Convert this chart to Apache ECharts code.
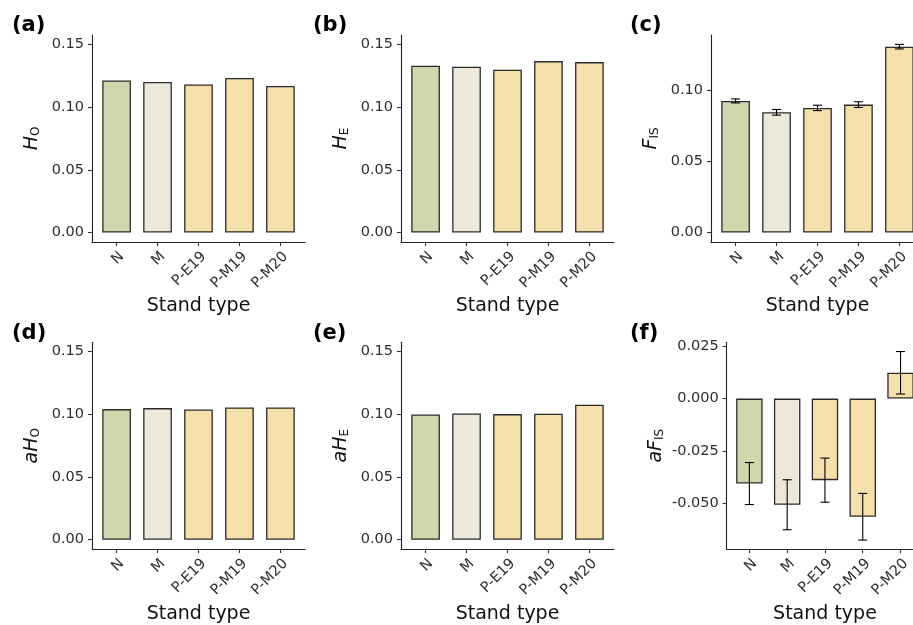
<!DOCTYPE html>
<html><head><meta charset="utf-8">
<script src="https://cdn.jsdelivr.net/npm/echarts@6/dist/echarts.min.js"></script>
<style>html,body{margin:0;padding:0;background:#fff}#c{width:913px;height:625px}</style>
</head><body><div id="c"></div>
<script>
const categories = ['N', 'M', 'P-E19', 'P-M19', 'P-M20'];
const hoValues   = [0.1213, 0.1200, 0.1181, 0.1232, 0.1168];
const heValues   = [0.1330, 0.1322, 0.1298, 0.1367, 0.1359];
const fisValues  = [0.0925, 0.0845, 0.0876, 0.0899, 0.1306];
const fisErrors  = [0.0014, 0.0020, 0.0019, 0.0020, 0.0016];
const ahoValues  = [0.1042, 0.1050, 0.1039, 0.1055, 0.1055];
const aheValues  = [0.0999, 0.1007, 0.1002, 0.1005, 0.1077];
const afisValues = [-0.0404, -0.0505, -0.0388, -0.0562, 0.0123];
const afisErrors = [0.0100, 0.0119, 0.0105, 0.0111, 0.0101];
const hTicks    = [0, 0.05, 0.10, 0.15];
const fisTicks  = [0, 0.05, 0.10];
const afisTicks = [-0.05, -0.025, 0, 0.025];
const xTitle = 'Stand type';

const standColors = ['#cfd7ad', '#ece9da', '#f5dfab', '#f5dfab', '#f5dfab'];
const FONT = 'DejaVu Sans';

const panels = [
  {tag: '(a)', name: '{i|H}{s|O}',   values: hoValues,   errors: null,       ticks: hTicks,    dec: 2, min: -0.0075, max: 0.1575,  left: 92,    top: 35,    width: 213,   height: 207,   tagX: 12,  tagY: 15},
  {tag: '(b)', name: '{i|H}{s|E}',   values: heValues,   errors: null,       ticks: hTicks,    dec: 2, min: -0.0075, max: 0.1575,  left: 401,   top: 35,    width: 213,   height: 207,   tagX: 313, tagY: 15},
  {tag: '(c)', name: '{i|F}{s|IS}',  values: fisValues,  errors: fisErrors,  ticks: fisTicks,  dec: 2, min: -0.0066, max: 0.1388,  left: 711,   top: 35,    width: 213,   height: 207,   tagX: 630, tagY: 15},
  {tag: '(d)', name: '{i|aH}{s|O}',  values: ahoValues,  errors: null,       ticks: hTicks,    dec: 2, min: -0.0075, max: 0.1575,  left: 92,    top: 342.3, width: 213,   height: 206.8, tagX: 12,  tagY: 323},
  {tag: '(e)', name: '{i|aH}{s|E}',  values: aheValues,  errors: null,       ticks: hTicks,    dec: 2, min: -0.0075, max: 0.1575,  left: 401,   top: 342.3, width: 213,   height: 206.8, tagX: 313, tagY: 323},
  {tag: '(f)', name: '{i|aF}{s|IS}', values: afisValues, errors: afisErrors, ticks: afisTicks, dec: 3, min: -0.0716, max: 0.0268,  left: 726.7, top: 342.3, width: 196.5, height: 206.8, tagX: 630, tagY: 323}
];

const catIdx = categories.map((c, i) => i);
const grid = [], xAxis = [], yAxis = [], series = [], title = [];

panels.forEach((p, i) => {
  grid.push({left: p.left, top: p.top, width: p.width, height: p.height,
    containLabel: false, outerBoundsMode: 'none'});
  title.push({text: p.tag, left: p.tagX, top: p.tagY, padding: 0,
    textStyle: {fontFamily: FONT, fontSize: 21, fontWeight: 'bold', color: '#000'}});
  xAxis.push({
    type: 'value', gridIndex: i, min: -0.6, max: 4.6,
    splitLine: {show: false},
    axisLine: {show: true, onZero: false, lineStyle: {color: '#222', width: 1.1}},
    axisTick: {show: true, customValues: catIdx, length: 4, lineStyle: {color: '#333', width: 1.1}},
    axisLabel: {customValues: catIdx, formatter: v => categories[Math.round(v)],
      rotate: 45, align: 'right', verticalAlign: 'top', margin: 7, lineHeight: 15,
      fontFamily: FONT, fontSize: 14.5, color: '#2e2e2e'},
    name: xTitle, nameLocation: 'middle', nameGap: 55,
    nameTextStyle: {fontFamily: FONT, fontSize: 19, color: '#111'}
  });
  yAxis.push({
    type: 'value', gridIndex: i, min: p.min, max: p.max,
    splitLine: {show: false},
    axisLine: {show: true, onZero: false, lineStyle: {color: '#222', width: 1.1}},
    axisTick: {show: true, customValues: p.ticks, length: 4, lineStyle: {color: '#333', width: 1.1}},
    axisLabel: {customValues: p.ticks, formatter: v => v.toFixed(p.dec), margin: 8,
      fontFamily: FONT, fontSize: 14.5, color: '#2e2e2e'},
    name: p.name, nameLocation: 'middle', nameRotate: 90, nameGap: 48,
    nameTextStyle: {fontFamily: FONT, color: '#111', rich: {
      i: {fontFamily: FONT, fontStyle: 'italic', fontSize: 19, lineHeight: 24, verticalAlign: 'middle', color: '#111'},
      s: {fontFamily: FONT, fontSize: 12, lineHeight: 12, verticalAlign: 'bottom', padding: [0, 0, 2, 0], color: '#111'}
    }}
  });
  series.push({
    type: 'bar', xAxisIndex: i, yAxisIndex: i,
    barWidth: 0.7 * p.width / 5.2,
    data: p.values.map((v, k) => ({value: [k, v], itemStyle: {color: standColors[k]}})),
    itemStyle: {borderColor: '#2b2b2b', borderWidth: 1.3},
    silent: true
  });
  if (p.errors) {
    series.push({
      type: 'custom', xAxisIndex: i, yAxisIndex: i, z: 10, silent: true,
      encode: {x: 0, y: [1, 2]},
      data: p.values.map((v, k) => [k, v - p.errors[k], v + p.errors[k]]),
      renderItem: (params, api) => {
        const x = api.value(0);
        const lo = api.coord([x, api.value(1)]);
        const hi = api.coord([x, api.value(2)]);
        const hw = 4.5;
        const st = {stroke: '#000', lineWidth: 1.1};
        return {type: 'group', children: [
          {type: 'line', shape: {x1: lo[0], y1: lo[1], x2: hi[0], y2: hi[1]}, style: st},
          {type: 'line', shape: {x1: lo[0] - hw, y1: lo[1], x2: lo[0] + hw, y2: lo[1]}, style: st},
          {type: 'line', shape: {x1: hi[0] - hw, y1: hi[1], x2: hi[0] + hw, y2: hi[1]}, style: st}
        ]};
      }
    });
  }
});

const chart = echarts.init(document.getElementById('c'), null, {renderer: 'canvas'});
chart.setOption({animation: false, backgroundColor: '#fff', title, grid, xAxis, yAxis, series});
</script>
</body></html>
